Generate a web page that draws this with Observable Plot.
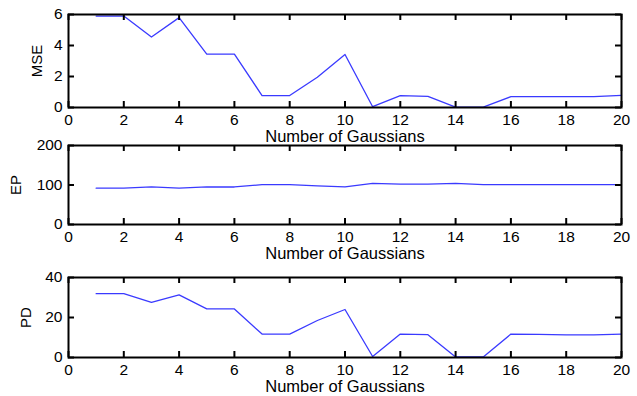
<!DOCTYPE html>
<html>
<head>
<meta charset="utf-8">
<script src="https://cdn.jsdelivr.net/npm/d3@7"></script>
<script src="https://cdn.jsdelivr.net/npm/@observablehq/plot@0.6"></script>
<style>
  html, body { margin: 0; padding: 0; background: #fff; }
  #wrap { position: relative; width: 637px; height: 396px; overflow: hidden; }
  #wrap svg { position: absolute; left: 0; }
</style>
</head>
<body>
<div id="wrap"></div>
<script>
const gaussians = [1,2,3,4,5,6,7,8,9,10,11,12,13,14,15,16,17,18,19,20];
const mse = [5.9,5.9,4.55,5.8,3.45,3.45,0.77,0.77,1.95,3.42,0.05,0.77,0.72,0.02,0.02,0.7,0.7,0.7,0.7,0.78];
const ep  = [92,92,95,92,95,95,101,101,98,95,104,102,102,104,101,101,101,101,101,101];
const pd  = [31.9,31.9,27.6,31.3,24.3,24.3,11.7,11.7,18.5,24.0,0.5,11.7,11.4,0.3,0.3,11.7,11.6,11.3,11.3,11.7];
const xTicks = [0,2,4,6,8,10,12,14,16,18,20];
const mseTicks = [0,2,4,6];
const epTicks = [0,100,200];
const pdTicks = [0,20,40];
const xLabel = "Number of Gaussians";

const font = "'Liberation Sans', Arial, Helvetica, sans-serif";
const W = 637, ML = 68, MR = 16, TICK_PX = 6;

function panel(values, ymin, ymax, plotH, yTicks, yLabel, top, height, yLabelOffset) {
  const data = gaussians.map((g, i) => ({g, v: values[i]}));
  const xmin = 0, xmax = 20;
  // tick length of TICK_PX pixels expressed in data units
  const dy = (ymax - ymin) * TICK_PX / plotH;
  const dx = (xmax - xmin) * TICK_PX / (W - ML - MR);
  const tk = {stroke: "#000", strokeWidth: 2};
  const svg = Plot.plot({
    width: W, height,
    marginLeft: ML, marginRight: MR, marginTop: 14, marginBottom: height - 14 - plotH,
    style: {fontFamily: font, fontSize: "15.5px", color: "#000", background: "transparent", overflow: "visible"},
    x: {domain: [xmin, xmax]},
    y: {domain: [ymin, ymax]},
    marks: [
      Plot.axisX(xTicks, {anchor: "bottom", tickSize: 0, tickPadding: 6, label: null}),
      Plot.axisX([], {anchor: "bottom", tickSize: 0, label: xLabel, labelAnchor: "center",
        labelArrow: "none", labelOffset: 34, fontSize: 16.5}),
      Plot.axisY(yTicks, {anchor: "left", tickSize: 0, tickPadding: 6, label: null}),
      Plot.axisY([], {anchor: "left", tickSize: 0, label: yLabel, labelAnchor: "center",
        labelArrow: "none", labelOffset: yLabelOffset, fontSize: 15}),
      Plot.line(data, {x: "g", y: "v", stroke: "#3a3aff", strokeWidth: 1.3}),
      // inward MATLAB-style ticks on all four sides
      Plot.ruleX(xTicks, {...tk, x: d => d, y1: ymin, y2: ymin + dy}),
      Plot.ruleX(xTicks, {...tk, x: d => d, y1: ymax - dy, y2: ymax}),
      Plot.ruleY(yTicks, {...tk, y: d => d, x1: xmin, x2: xmin + dx}),
      Plot.ruleY(yTicks, {...tk, y: d => d, x1: xmax - dx, x2: xmax}),
      Plot.frame({stroke: "#000", strokeWidth: 2})
    ]
  });
  svg.style.top = top + "px";
  return svg;
}

const wrap = document.getElementById("wrap");
wrap.appendChild(panel(mse, 0, 6, 93, mseTicks, "MSE", 0, 140, 37));
wrap.appendChild(panel(ep, 0, 200, 79, epTicks, "EP", 131, 125, 58));
wrap.appendChild(panel(pd, 0, 40, 80, pdTicks, "PD", 263, 133, 48));
</script>
</body>
</html>
